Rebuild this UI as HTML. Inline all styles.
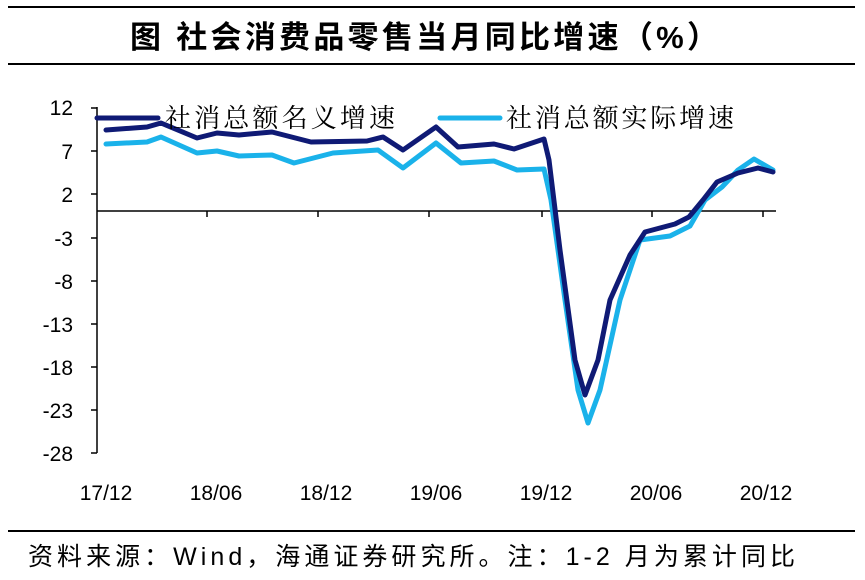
<!DOCTYPE html>
<html><head><meta charset="utf-8"><style>
body{margin:0;background:#fff;width:865px;height:580px;overflow:hidden}
svg{display:block}
</style></head><body>
<svg width="865" height="580" xmlns="http://www.w3.org/2000/svg">
<line x1="8" y1="7" x2="855" y2="7" stroke="#000" stroke-width="2"/>
<line x1="8" y1="64" x2="855" y2="64" stroke="#000" stroke-width="2"/>
<text x="130" y="48" textLength="588" lengthAdjust="spacing" font-family="Liberation Sans, Noto Sans CJK SC, sans-serif" font-weight="bold" font-size="31">图  社会消费品零售当月同比增速（%）</text>
<line x1="8" y1="531" x2="855" y2="531" stroke="#000" stroke-width="2"/>
<text x="28" y="565" textLength="767" lengthAdjust="spacing" font-family="Liberation Sans, Noto Sans CJK SC, sans-serif" font-size="25">资料来源：Wind，海通证券研究所。注：1-2 月为累计同比</text>
<g font-family="Liberation Sans, sans-serif" font-size="21" text-anchor="end">
<text x="73" y="115">12</text><text x="73" y="159">7</text><text x="73" y="202">2</text>
<text x="73" y="246">-3</text><text x="73" y="289">-8</text><text x="73" y="332">-13</text>
<text x="73" y="375">-18</text><text x="73" y="418">-23</text><text x="73" y="461">-28</text>
</g>
<g font-family="Liberation Sans, sans-serif" font-size="21" text-anchor="middle">
<text x="106" y="500">17/12</text><text x="216" y="500">18/06</text><text x="326" y="500">18/12</text>
<text x="436" y="500">19/06</text><text x="546" y="500">19/12</text><text x="656" y="500">20/06</text><text x="766" y="500">20/12</text>
</g>
<g stroke="#000" stroke-width="1.5">
<line x1="97" y1="107" x2="97" y2="453"/>
<line x1="91" y1="108" x2="97" y2="108"/><line x1="91" y1="151" x2="97" y2="151"/><line x1="91" y1="194" x2="97" y2="194"/>
<line x1="91" y1="238" x2="97" y2="238"/><line x1="91" y1="281" x2="97" y2="281"/><line x1="91" y1="324" x2="97" y2="324"/>
<line x1="91" y1="367" x2="97" y2="367"/><line x1="91" y1="410" x2="97" y2="410"/><line x1="91" y1="453" x2="97" y2="453"/>
<line x1="97" y1="211" x2="776" y2="211"/>
<line x1="207" y1="211" x2="207" y2="217"/><line x1="318" y1="211" x2="318" y2="217"/><line x1="429" y1="211" x2="429" y2="217"/>
<line x1="542" y1="211" x2="542" y2="217"/><line x1="652" y1="211" x2="652" y2="217"/><line x1="763" y1="211" x2="763" y2="217"/>
</g>
<g fill="none" stroke-width="5" stroke-linejoin="round" stroke-linecap="round">
<polyline stroke="#1AB2EA" points="106,144 147,142 161,137 197,153 217,151 239,156 272,155 294,163 333,153 378,150 403,168 436,143 461,163 494,161 517,170 544,169 551,200 565,300 578,390 588,423 600,390 620,300 640,240 670,236 690,226 705,200 722,187 738,170 754,159 773,170"/>
<polyline stroke="#0F1A75" points="106,130 147,127 161,123 197,138 217,133 239,135 272,132 311,142 367,141 383,137 403,150 436,127 458,147 494,144 514,149 544,139 549,160 560,250 575,360 585,395 598,360 610,300 630,255 645,232 660,228 675,224 689,217 703,200 717,182 738,173 758,168 773,172"/>
<line x1="97" y1="118" x2="158" y2="118" stroke="#0F1A75"/>
<line x1="440" y1="118" x2="500" y2="118" stroke="#1AB2EA"/>
</g>
<g font-family="Liberation Serif, Noto Serif CJK SC, serif" font-size="26">
<text x="165" y="127" textLength="230" lengthAdjust="spacing">社消总额名义增速</text>
<text x="506" y="127" textLength="228" lengthAdjust="spacing">社消总额实际增速</text>
</g>
</svg>
</body></html>
